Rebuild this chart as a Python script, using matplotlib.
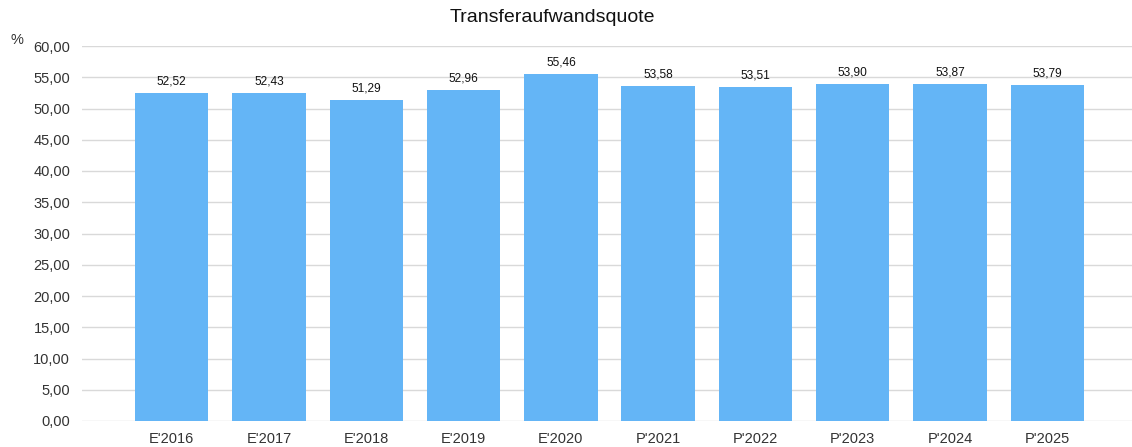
import matplotlib.pyplot as plt

# data
years = ["E'2016", "E'2017", "E'2018", "E'2019", "E'2020",
         "P'2021", "P'2022", "P'2023", "P'2024", "P'2025"]
quote = [52.52, 52.43, 51.29, 52.96, 55.46, 53.58, 53.51, 53.90, 53.87, 53.79]
yticks = [0, 5, 10, 15, 20, 25, 30, 35, 40, 45, 50, 55, 60]

plt.rcParams['font.family'] = ['Liberation Sans', 'DejaVu Sans']

fig = plt.figure(figsize=(11.32, 4.47), dpi=100)
ax = fig.add_axes([82 / 1132, 1 - 421 / 447, 1 - 82 / 1132, (421 - 46) / 447])

x = range(len(years))
bars = ax.bar(x, quote, width=0.755, color='#64b5f6', zorder=2)

for b, v in zip(bars, quote):
    ax.annotate(f'{v:.2f}'.replace('.', ','), (b.get_x() + b.get_width() / 2, v),
                xytext=(0, 4), textcoords='offset points',
                ha='center', va='bottom', fontsize=8.6, color='#111111')

ax.set_xlim(-0.922, 9.87)
ax.set_ylim(0, 60)
ax.set_yticks(yticks)
ax.set_yticklabels([f'{t:.2f}'.replace('.', ',') for t in yticks])
ax.set_xticks(list(x))
ax.set_xticklabels(years)
ax.tick_params(axis='both', length=0, labelsize=10.5, colors='#333333')
ax.tick_params(axis='y', pad=8.5)
ax.tick_params(axis='x', pad=8)

ax.grid(axis='y', color='#d9d9d9', linewidth=1, zorder=0)
for s in ax.spines.values():
    s.set_visible(False)

fig.text(552 / 1132, 1 - 18 / 447, 'Transferaufwandsquote', ha='center', va='center',
         fontsize=14, color='#111111')
fig.text(17 / 1132, 1 - 40 / 447, '%', ha='center', va='center', fontsize=10.5, color='#333333')

fig.savefig('out.png', dpi=100)
